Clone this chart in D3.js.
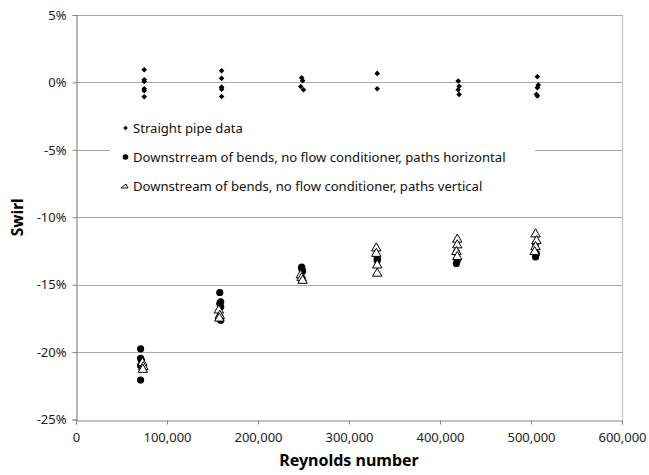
<!DOCTYPE html>
<html><head><meta charset="utf-8">
<script src="https://cdn.jsdelivr.net/npm/d3@7/dist/d3.min.js"></script>
<style>body{margin:0;background:#fff;}svg{display:block;}</style>
</head><body>
<svg id="c" width="649" height="475"></svg>
<script>
// Data (swirl as fraction)
const xTicks = [0,100000,200000,300000,400000,500000,600000];
const yTicks = [0.05,0,-0.05,-0.10,-0.15,-0.20,-0.25];
const straightRe = [75000,75000,75000,75000,75000,75000,160000,160000,160000,160000,160000,248000,249000,247000,250000,331000,331000,420000,421000,420000,421000,507000,508000,507000,506000,507000];
const straightSwirl = [0.0094,0.0020,0.0007,-0.0047,-0.0062,-0.0106,0.0087,0.0030,-0.0035,-0.0050,-0.0104,0.0035,0.0013,-0.0030,-0.0054,0.0067,-0.0047,0.0010,-0.0028,-0.0054,-0.0089,0.0042,-0.0020,-0.0039,-0.0089,-0.0100];
const horizRe = [71000,71000,72000,71000,71000,158000,159000,158000,159000,158000,159000,248000,248000,249000,331000,331000,418000,419000,418000,505000,506000,505000];
const horizSwirl = [-0.1976,-0.2047,-0.2064,-0.2100,-0.2207,-0.1558,-0.1627,-0.1640,-0.1664,-0.1738,-0.1763,-0.1370,-0.1380,-0.1400,-0.1306,-0.1320,-0.1260,-0.1320,-0.1343,-0.1195,-0.1270,-0.1294];
const vertRe = [73000,74000,73500,157000,158000,157500,247000,248000,249000,330000,330000,331000,331000,419000,419000,418000,419000,505000,506000,505000,504000];
const vertSwirl = [-0.2080,-0.2110,-0.2130,-0.1690,-0.1730,-0.1750,-0.1430,-0.1450,-0.1470,-0.1230,-0.1270,-0.1356,-0.1417,-0.1165,-0.1207,-0.1257,-0.1294,-0.1126,-0.1176,-0.1220,-0.1257];
const legendLabels = ["Straight pipe data","Downstrream of bends, no flow conditioner, paths horizontal","Downstream of bends, no flow conditioner, paths vertical"];

const svg = d3.select("#c");
const L=76, R=622, T=15, B=419.5;
const x = d3.scaleLinear().domain([0,600000]).range([L,R]);
const y = d3.scaleLinear().domain([-0.25,0.05]).range([B,T]);
const font = "'Noto Sans', 'Open Sans', sans-serif";

// gridlines
svg.append("g").selectAll("line").data(yTicks.filter(d=>d>-0.25)).join("line")
  .attr("x1",L).attr("x2",R).attr("y1",d=>Math.round(y(d))+0.5).attr("y2",d=>Math.round(y(d))+0.5)
  .attr("stroke","#a6a6a6").attr("stroke-width",1.2);
// right border
svg.append("line").attr("x1",R+0.5).attr("x2",R+0.5).attr("y1",T).attr("y2",B).attr("stroke","#bfbfbf").attr("stroke-width",1.2);

// axes
const fmtX = d3.format(",");
const xAxis = d3.axisBottom(x).tickValues(xTicks).tickSize(4).tickFormat(d=>fmtX(d));
const gx = svg.append("g").attr("transform",`translate(0,${Math.round(B)+0.5})`).call(xAxis);
gx.select(".domain").attr("stroke","#868686").attr("stroke-width",1.2);
gx.selectAll(".tick line").attr("stroke","#868686");
gx.selectAll("text").attr("font-family",font).attr("font-size",13).attr("fill","#222").attr("y",17).attr("dy","0.35em");

const yAxis = d3.axisLeft(y).tickValues(yTicks).tickSize(4).tickFormat(d=>Math.round(d*100)+"%");
const gy = svg.append("g").attr("transform",`translate(${L+0.5},0)`).call(yAxis);
gy.select(".domain").attr("stroke","#868686").attr("stroke-width",1.2);
gy.selectAll(".tick line").attr("stroke","#868686");
gy.selectAll("text").attr("font-family",font).attr("font-size",13).attr("fill","#222").attr("x",-10);

// markers
const diamond = d3.symbol().type(d3.symbolDiamond2).size(20);
const tri = d3.symbol().type(d3.symbolTriangle).size(38);

svg.append("g").selectAll("path").data(straightRe.map((r,i)=>[r,straightSwirl[i]])).join("path")
  .attr("d",diamond).attr("transform",d=>`translate(${x(d[0])},${y(d[1])})`).attr("fill","#000");
svg.append("g").selectAll("circle").data(horizRe.map((r,i)=>[r,horizSwirl[i]])).join("circle")
  .attr("cx",d=>x(d[0])).attr("cy",d=>y(d[1])).attr("r",3.6).attr("fill","#000");
svg.append("g").selectAll("path").data(vertRe.map((r,i)=>[r,vertSwirl[i]])).join("path")
  .attr("d",tri).attr("transform",d=>`translate(${x(d[0])},${y(d[1])})`).attr("fill","#fff").attr("stroke","#000").attr("stroke-width",1);

// legend
const lg = svg.append("g");
lg.append("rect").attr("x",110).attr("y",112).attr("width",425).attr("height",88).attr("fill","#fff");
const rowsY=[128,157,186];
lg.append("path").attr("d",d3.symbol().type(d3.symbolDiamond2).size(14)).attr("transform",`translate(125.5,${rowsY[0]})`).attr("fill","#000");
lg.append("circle").attr("cx",125.5).attr("cy",rowsY[1]).attr("r",2.8).attr("fill","#000");
lg.append("path").attr("d","M121,188 L128,188 L126,184 Z").attr("fill","none").attr("stroke","#000").attr("stroke-width",0.9);
lg.selectAll("text").data(legendLabels).join("text")
  .attr("x",133).attr("y",(d,i)=>rowsY[i]).attr("dy","0.35em")
  .attr("font-family",font).attr("font-size",13.1).attr("fill","#111").text(d=>d);

// axis titles
svg.append("text").attr("x",(L+R)/2).attr("y",466).attr("text-anchor","middle")
  .attr("font-family",font).attr("font-weight","bold").attr("font-size",16).text("Reynolds number");
svg.append("text").attr("transform",`translate(18,${(T+B)/2}) rotate(-90)`).attr("text-anchor","middle")
  .attr("font-family",font).attr("font-weight","bold").attr("font-size",15.5).attr("dy","0.35em").text("Swirl");
</script>
</body></html>
